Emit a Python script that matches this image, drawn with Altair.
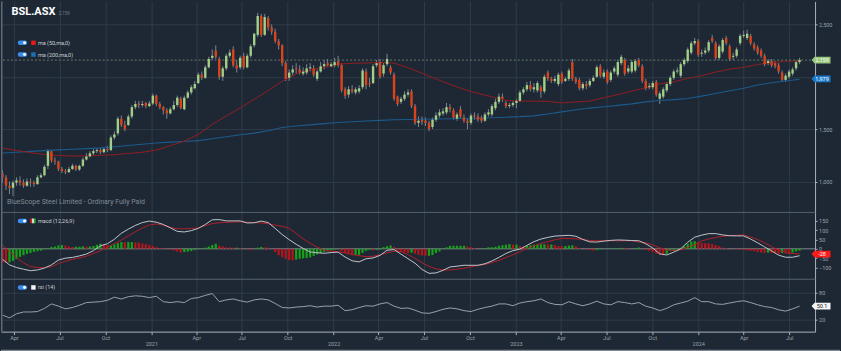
import altair as alt
import pandas as pd
import numpy as np

# ---------------- data (weekly candles, first week 2020-03-09) ----------------
FIRST_WEEK = "2020-03-09"

open_ = [1080,1040,960,940,990,1010,990,960,1000,990,
         975,1040,1060,1150,1290,1200,1190,1120,1100,1090,
         1120,1150,1115,1150,1210,1240,1270,1290,1300,1280,
         1310,1300,1420,1460,1600,1540,1540,1620,1710,1745,
         1730,1750,1720,1745,1820,1740,1710,1680,1650,1690,
         1730,1790,1690,1800,1850,1890,1940,2020,1990,2090,
         2180,2250,2170,2000,2080,2200,2260,2110,2090,2200,
         2090,2200,2300,2400,2580,2400,2560,2470,2430,2340,
         2300,2130,1990,2040,2080,2070,2030,2040,2080,2080,
         1980,2050,2100,2130,2100,2110,2150,2110,1880,1830,
         1880,1850,1860,1900,2050,1940,1940,2110,2140,2030,
         2120,2090,2020,1810,1760,1790,1830,1860,1720,1560,
         1590,1580,1560,1520,1590,1630,1650,1660,1710,1680,
         1600,1690,1610,1580,1560,1630,1620,1610,1580,1640,
         1640,1700,1760,1810,1750,1720,1730,1750,1770,1850,
         1880,1920,1880,1870,1900,1860,2040,1980,1960,1930,
         2030,1960,1980,2140,1980,1970,1890,1930,1920,1960,
         2000,2100,2000,2050,1970,2050,2020,2130,2160,2050,
         2050,2060,2160,2100,1960,1900,1900,1950,1790,1810,
         1870,1930,1990,2050,2010,2120,2150,2230,2320,2340,
         2220,2230,2250,2370,2320,2180,2240,2370,2290,2190,
         2200,2320,2390,2370,2390,2310,2280,2250,2200,2130,
         2150,2130,2110,2040,1970,2000,2030,2080,2140]

high = [1110,1060,1000,1010,1040,1050,1020,1030,1030,1010,
        1060,1080,1160,1310,1300,1230,1200,1140,1120,1140,
        1170,1160,1160,1230,1270,1290,1310,1320,1320,1330,
        1340,1440,1480,1620,1630,1580,1640,1730,1770,1770,
        1770,1760,1770,1840,1830,1760,1720,1700,1710,1770,
        1820,1810,1820,1870,1920,1960,2040,2050,2110,2190,
        2260,2300,2190,2100,2220,2260,2290,2160,2200,2230,
        2220,2310,2420,2610,2600,2600,2580,2500,2460,2360,
        2310,2150,2070,2110,2130,2110,2090,2120,2130,2110,
        2070,2140,2160,2170,2140,2180,2200,2130,1900,1910,
        1920,1900,1920,2080,2080,1990,2120,2160,2170,2130,
        2220,2110,2040,1820,1810,1860,1880,1880,1740,1620,
        1620,1610,1580,1610,1660,1690,1700,1750,1740,1700,
        1660,1720,1640,1600,1650,1660,1650,1630,1660,1690,
        1740,1790,1840,1840,1770,1750,1770,1790,1870,1900,
        1950,1960,1940,1960,1920,2020,2060,2000,2010,2040,
        2050,2000,2080,2170,2000,1990,1950,1960,1980,2010,
        2110,2120,2070,2070,2060,2100,2160,2210,2180,2110,
        2160,2170,2180,2120,1980,1940,1960,1970,1860,1900,
        1950,2010,2070,2090,2140,2180,2280,2340,2370,2360,
        2260,2280,2350,2400,2340,2310,2370,2390,2310,2230,
        2280,2410,2440,2450,2410,2330,2300,2270,2220,2170,
        2170,2150,2130,2060,2030,2070,2090,2160,2180]

low = [990,920,880,860,960,960,940,950,950,950,
       970,1030,1050,1120,1180,1160,1100,1080,1070,1080,
       1110,1100,1100,1140,1200,1230,1250,1270,1260,1270,
       1280,1290,1400,1440,1520,1480,1530,1600,1690,1700,
       1710,1700,1710,1730,1720,1690,1640,1600,1640,1680,
       1710,1690,1680,1790,1830,1880,1930,1970,1980,2080,
       2160,2170,1970,1960,2060,2180,2090,2040,2070,2070,
       2080,2180,2280,2380,2380,2390,2440,2400,2320,2260,
       2100,1960,1960,2010,2030,2020,2010,2020,2050,2000,
       1960,2040,2070,2090,2090,2090,2090,1850,1790,1800,
       1840,1830,1840,1880,1880,1900,1930,2090,1980,2000,
       2100,2020,1770,1720,1740,1770,1810,1700,1540,1520,
       1540,1530,1480,1500,1570,1610,1630,1640,1660,1590,
       1580,1600,1560,1500,1540,1590,1570,1560,1570,1620,
       1620,1680,1740,1760,1700,1700,1710,1700,1760,1830,
       1860,1860,1850,1850,1800,1840,1960,1940,1940,1910,
       1930,1950,1960,1960,1930,1870,1870,1880,1900,1950,
       1990,1990,1980,1930,1950,2030,2000,2110,2010,2030,
       2030,2040,2090,1940,1870,1880,1880,1810,1740,1790,
       1850,1910,1970,2030,1990,2100,2130,2210,2300,2190,
       2190,2210,2230,2320,2160,2160,2220,2300,2150,2160,
       2180,2300,2370,2350,2300,2250,2210,2180,2100,2110,
       2090,2080,2030,1950,1950,1980,2010,2060,2120]

close = [1040,960,940,990,1010,990,960,1000,990,975,
         1040,1060,1140,1290,1200,1190,1120,1100,1090,1120,
         1150,1115,1150,1210,1240,1270,1290,1300,1280,1310,
         1300,1420,1450,1600,1540,1500,1620,1710,1740,1730,
         1740,1720,1745,1820,1740,1710,1680,1650,1690,1730,
         1800,1700,1800,1850,1900,1930,2020,1990,2090,2170,
         2200,2190,2000,2080,2200,2230,2110,2080,2180,2090,
         2200,2290,2410,2580,2400,2570,2470,2430,2340,2300,
         2130,1980,2040,2070,2070,2040,2050,2080,2090,2020,
         2050,2100,2120,2110,2120,2140,2110,1870,1820,1880,
         1860,1880,1890,2060,1920,1930,2100,2130,2000,2110,
         2170,2040,1790,1740,1790,1830,1850,1720,1560,1580,
         1570,1560,1500,1590,1630,1660,1670,1710,1690,1610,
         1640,1620,1580,1560,1630,1620,1590,1580,1640,1660,
         1720,1760,1810,1790,1720,1730,1750,1770,1850,1880,
         1920,1880,1900,1940,1860,2000,1980,1960,1980,2020,
         1950,1980,2060,1980,1950,1890,1930,1910,1960,1990,
         2090,2010,2040,1950,2040,2080,2140,2190,2030,2080,
         2140,2150,2110,1960,1890,1910,1940,1830,1840,1880,
         1930,1990,2050,2060,2120,2160,2260,2320,2340,2210,
         2230,2250,2330,2340,2180,2290,2350,2320,2170,2200,
         2260,2390,2400,2410,2320,2270,2230,2200,2120,2150,
         2110,2100,2050,1970,2010,2050,2070,2140,2159]

# moving averages, read every 4th week
ma50 = [1319,1296,1276,1258,1248,1243,1246,1250,1256,1268,
        1279,1300,1342,1385,1450,1545,1625,1703,1785,1868,
        1957,2027,2066,2090,2121,2128,2131,2138,2130,2087,
        2033,1980,1927,1880,1842,1808,1775,1767,1767,1765,
        1750,1760,1768,1800,1830,1863,1895,1932,1950,1985,
        2010,2045,2072,2090,2117,2135,2148,2150]
ma200 = [1273,1280,1288,1295,1302,1308,1314,1321,1332,1344,
         1356,1368,1376,1382,1390,1408,1428,1446,1462,1485,
         1515,1530,1541,1553,1563,1571,1578,1584,1589,1592,
         1594,1597,1599,1601,1603,1608,1614,1619,1627,1645,
         1665,1685,1701,1714,1727,1741,1760,1774,1782,1792,
         1815,1840,1866,1891,1922,1942,1960,1976]

# MACD (12,26,9) line and signal, read every 2nd week
macd_line = [-56,-86,-100,-109,-117,-113,-103,-86,-60,-50,
             -46,-38,-28,-10,16,27,51,83,105,125,
             140,148,142,130,112,93,90,97,109,130,
             155,156,149,149,149,138,139,148,140,109,
             76,49,24,2,-17,-21,-24,-20,-18,-44,
             -64,-70,-53,-49,-35,-8,-4,-29,-53,-77,
             -110,-131,-129,-115,-97,-93,-88,-88,-88,-80,
             -65,-46,-25,-10,-2,18,38,52,61,68,
             70,72,67,50,37,36,41,45,47,46,
             44,43,27,4,-27,-33,-18,0,35,62,
             73,81,81,74,70,69,69,52,32,10,
             -11,-34,-45,-45,-37]
signal_line = [18,-14,-46,-75,-95,-100,-100,-96,-78,-67,
               -56,-49,-40,-25,-11,8,27,47,69,91,
               111,127,133,126,115,107,107,109,111,124,
               135,139,141,143,144,142,140,138,134,126,
               120,110,82,53,29,9,-8,-12,-16,-22,
               -30,-37,-42,-40,-32,-22,-13,-15,-31,-51,
               -74,-94,-107,-113,-113,-109,-104,-96,-89,-84,
               -73,-62,-47,-32,-16,2,16,28,38,48,
               56,55,53,50,44,43,43,43,43,43,
               43,36,33,21,5,-6,-9,-5,8,22,
               42,52,61,67,70,72,74,62,50,32,
               11,-7,-22,-25,-27]
# MACD histogram, weekly
macd_hist = [-74,-75,-72,-64,-54,-43,-34,-27,-22,-16,
             -13,-10,-3,4,10,12,18,20,17,12,
             10,11,11,13,12,12,15,21,27,24,
             19,19,24,30,36,35,36,36,34,33,
             29,25,21,15,9,5,4,1,-3,-9,
             -14,-20,-17,-15,-12,-7,-2,3,6,12,
             20,27,17,12,8,7,6,6,5,0,
             -4,-7,-1,6,10,8,6,-2,-17,-34,
             -44,-54,-61,-62,-58,-53,-51,-49,-46,-38,
             -30,-23,-16,-12,-8,-4,-2,-13,-22,-29,
             -34,-34,-33,-22,-11,-6,-9,-6,-3,9,
             14,18,9,-10,-14,-19,-22,-21,-26,-32,
             -36,-37,-37,-33,-22,-14,-2,8,16,16,
             16,16,16,12,8,4,1,1,4,8,
             8,11,16,19,22,25,22,22,14,11,
             16,19,22,23,24,24,23,23,20,15,
             14,15,17,19,14,5,0,-3,-7,-10,
             -7,-4,-2,0,2,3,4,5,3,2,
             1,3,7,2,-6,-10,-17,-26,-32,-33,
             -27,-9,-9,-3,5,13,27,39,40,35,
             31,30,29,26,20,14,7,4,0,-2,
             -3,-4,-5,-9,-10,-12,-18,-20,-22,-20,
             -22,-23,-27,-22,-23,-24,-20,-14,-10]
# RSI (14), read every 2nd week
rsi = [30,24,33,37,37,38,45,55,50,44,
       47,52,58,59,60,63,70,66,71,73,
       72,69,72,60,58,60,58,67,69,74,
       78,60,64,66,62,59,64,66,64,56,
       47,46,48,49,51,48,50,50,52,40,
       42,47,51,50,55,58,50,45,46,41,
       35,34,38,43,46,44,40,38,43,47,
       50,55,55,51,57,60,62,66,58,54,
       53,60,55,51,55,61,55,53,60,58,
       55,58,50,46,40,45,53,57,61,69,
       60,60,55,54,57,60,62,58,53,49,
       47,42,39,44,50]

LAST_PRICE, LAST_PRICE_TXT = 2159, "2,159"
LAST_MA200, LAST_MA200_TXT = 1979, "1,979"
LAST_MACD, LAST_MACD_TXT = -28, "-28"
LAST_RSI, LAST_RSI_TXT = 50.1, "50.1"

# ---------------- frames ----------------
weeks = pd.date_range(FIRST_WEEK, periods=len(close), freq="7D")
candles = pd.DataFrame({"date": weeks, "open": open_, "high": high,
                        "low": low, "close": close})
candles["dir"] = np.where(candles["close"] >= candles["open"], "up", "down")

hist_df = pd.DataFrame({"date": weeks, "hist": macd_hist})
rising = np.r_[False, np.diff(np.array(macd_hist)) >= 0]
hist_df["dir"] = np.where(rising, "up", "down")
hist_df["zero"] = 0

ma_df = pd.DataFrame({"date": weeks[::4], "ma50": ma50, "ma200": ma200})
osc_df = pd.DataFrame({"date": weeks[::2], "macd": macd_line,
                       "signal": signal_line, "rsi": rsi})
one = pd.DataFrame({"a": [0]})

# ---------------- style ----------------
BG = "#1e2834"
GRID = "#2f3b48"
AXC = "#9aa2ab"
DOM = "#aab1b9"
FONT = "Roboto"
UP, DOWN = "#a2cf87", "#d9441d"
W = 816
H_PRICE, H_MACD, H_RSI = 211, 67, 53


def ms(s):
    return int(pd.Timestamp(s).value // 10**6)


x_domain = [ms("2020-03-06"), ms("2024-08-22")]
quarter_ticks = [int(t.value // 10**6)
                 for t in pd.date_range("2020-04-01", "2024-07-01", freq="QS")]

x_grid_axis = alt.Axis(values=quarter_ticks, grid=True, gridColor=GRID,
                       labels=False, ticks=False, domain=False, title=None)
x_bottom_axis = alt.Axis(
    values=quarter_ticks, grid=True, gridColor=GRID, labels=True, ticks=True,
    tickSize=3, tickColor=DOM, domain=True, domainColor=DOM,
    labelFontSize=5.5, labelColor=AXC, labelFont=FONT, labelPadding=0.5,
    labelLineHeight=6.5, labelBaseline="top", labelOverlap=False,
    labelFlush=False, title=None,
    labelExpr="utcmonth(datum.value) == 0 ? ['', utcFormat(datum.value, '%Y')] : utcFormat(datum.value, '%b')")


def X(axis):
    return alt.X("date:T", scale=alt.Scale(domain=x_domain), axis=axis)


def yaxis(values, grid, expr=None):
    kw = dict(orient="right", values=values, grid=grid, gridColor=GRID,
              tickSize=2, tickColor=DOM, domainColor=DOM, labelFontSize=5.5,
              labelColor=AXC, labelFont=FONT, labelPadding=1.5, title=None)
    if expr:
        kw["labelExpr"] = expr
    return alt.Axis(**kw)


price_axis = yaxis([1000, 1500, 2000, 2500], True,
                   "datum.value == 2000 ? '' : format(datum.value, ',')")
macd_axis = yaxis([-100, -50, 0, 50, 100, 150], False)
rsi_axis = yaxis([20, 80], True)


def price_y(f):
    return alt.Y(f"{f}:Q", scale=alt.Scale(domain=[710, 2719], nice=False, zero=False),
                 axis=price_axis)


def macd_y(f):
    return alt.Y(f"{f}:Q", scale=alt.Scale(domain=[-160, 197], nice=False, zero=False),
                 axis=macd_axis)


def rsi_y(f):
    return alt.Y(f"{f}:Q", scale=alt.Scale(domain=[-6.7, 111], nice=False, zero=False),
                 axis=rsi_axis)


TAG = "M-1,0L-0.68,-0.36L1,-0.36L1,0.36L-0.68,0.36Z"


def tag(value, yfn, fill, text, tcolor):
    d = alt.Chart(pd.DataFrame({"v": [value]}))
    shape = d.mark_point(shape=TAG, size=361, filled=True, color=fill,
                         opacity=1, strokeWidth=0).encode(x=alt.value(822), y=yfn("v"))
    lab = d.mark_text(fontSize=5.5, color=tcolor, font=FONT, align="center",
                      baseline="middle").encode(x=alt.value(823), y=yfn("v"),
                                                text=alt.value(text))
    return [shape, lab]


def txt(text, x, y, size=5.5, color="#c9ced4", weight="normal"):
    return alt.Chart(one).mark_text(text=text, fontSize=size, color=color,
                                    fontWeight=weight, align="left",
                                    baseline="middle", font=FONT).encode(
        x=alt.value(x), y=alt.value(y))


def toggle(y):
    pill = alt.Chart(one).mark_rule(color="#3b8beb", strokeWidth=4.5,
                                    strokeCap="round").encode(
        x=alt.value(19), x2=alt.value(24), y=alt.value(y))
    knob = alt.Chart(one).mark_point(shape="circle", size=9, filled=True,
                                     color="white", opacity=1).encode(
        x=alt.value(23.6), y=alt.value(y))
    return [pill, knob]


def swatch(x, y, color):
    return alt.Chart(one).mark_point(shape="square", size=20, filled=True,
                                     color=color, opacity=1).encode(
        x=alt.value(x), y=alt.value(y))


def left_border():
    return alt.Chart(one).mark_rule(color="#5f6975", strokeWidth=1.5).encode(
        x=alt.value(0.75))


def top_sep():
    return alt.Chart(one).mark_rule(color="#56616d", strokeWidth=1).encode(
        y=alt.value(0.5))


# ---------------- price panel ----------------
wicks = alt.Chart(candles).mark_rule(color="#7c8692", strokeWidth=1).encode(
    x=X(x_grid_axis), y=price_y("low"), y2=alt.Y2("high:Q"))
bodies = alt.Chart(candles).mark_rule(strokeWidth=2.4).encode(
    x=X(x_grid_axis), y=price_y("open"), y2=alt.Y2("close:Q"),
    color=alt.Color("dir:N", scale=alt.Scale(domain=["up", "down"], range=[UP, DOWN]),
                    legend=None))
ma50_line = alt.Chart(ma_df).mark_line(color="#8f1d22", strokeWidth=1).encode(
    x=X(x_grid_axis), y=price_y("ma50"))
ma200_line = alt.Chart(ma_df).mark_line(color="#1b5a8c", strokeWidth=1.1).encode(
    x=X(x_grid_axis), y=price_y("ma200"))
last_rule = alt.Chart(pd.DataFrame({"v": [LAST_PRICE]})).mark_rule(
    color="#66766a", strokeDash=[2, 2], strokeWidth=1).encode(y=price_y("v"))

price_layers = [wicks, ma200_line, ma50_line, last_rule, bodies]
price_layers += tag(LAST_PRICE, price_y, "#96c67a", LAST_PRICE_TXT, "white")
price_layers += tag(LAST_MA200, price_y, "#1a78c8", LAST_MA200_TXT, "white")
price_layers += [txt("BSL.ASX", 10.5, 10.5, size=11, color="white", weight="bold"),
                 txt(LAST_PRICE_TXT, 58, 12.5, size=4.5, color="#6f7a85")]
price_layers += toggle(41.5) + [swatch(32.5, 41.5, "#e31b1b"), txt("ma (50,ma,0)", 37, 41.5)]
price_layers += toggle(53.3) + [swatch(32.5, 53.3, "#1a6fb8"), txt("ma (200,ma,0)", 37, 53.3)]
price_layers += [txt("BlueScope Steel Limited - Ordinary Fully Paid", 6, 201.5,
                     size=7, color="#7f8a95"), left_border()]
price_panel = alt.layer(*price_layers).properties(width=W, height=H_PRICE)

# ---------------- MACD panel ----------------
zero_rule = alt.Chart(pd.DataFrame({"v": [0]})).mark_rule(
    color="#7f8891", strokeWidth=1).encode(y=macd_y("v"))
hist_bars = alt.Chart(hist_df).mark_rule(strokeWidth=2.2).encode(
    x=X(x_grid_axis), y=macd_y("hist"), y2=alt.Y2("zero:Q"),
    color=alt.Color("dir:N", scale=alt.Scale(domain=["up", "down"],
                                             range=["#17a317", "#b8141c"]), legend=None))
macd_l = alt.Chart(osc_df).mark_line(color="#bfc4ca", strokeWidth=1).encode(
    x=X(x_grid_axis), y=macd_y("macd"))
signal_l = alt.Chart(osc_df).mark_line(color="#b01f28", strokeWidth=1).encode(
    x=X(x_grid_axis), y=macd_y("signal"))

macd_icon = [alt.Chart(one).mark_rule(color=c, strokeWidth=1.8).encode(
    x=alt.value(xx), y=alt.value(6.6), y2=alt.value(11.4))
    for xx, c in [(30.3, "#e02020"), (32.1, "#f0f0f0"), (33.9, "#22b022")]]

macd_layers = [zero_rule, hist_bars, signal_l, macd_l]
macd_layers += tag(LAST_MACD, macd_y, "#ff1a1a", LAST_MACD_TXT, "white")
macd_layers += toggle(9) + macd_icon + [txt("macd (12,26,9)", 37, 9), top_sep(), left_border()]
macd_panel = alt.layer(*macd_layers).properties(width=W, height=H_MACD)

# ---------------- RSI panel ----------------
rsi_l = alt.Chart(osc_df).mark_line(color="#a6acb3", strokeWidth=0.9).encode(
    x=X(x_bottom_axis), y=rsi_y("rsi"))
frame = alt.Chart(one).mark_rule(color="#7d858e", strokeWidth=1.5).encode(
    x=alt.value(0), x2=alt.value(841), y=alt.value(72))

rsi_layers = [rsi_l]
rsi_layers += tag(LAST_RSI, rsi_y, "#f4f4f4", LAST_RSI_TXT, "#222222")
rsi_layers += toggle(8.7) + [swatch(32.5, 8.7, "#f4f4f4"), txt("rsi (14)", 37, 8.7),
                             top_sep(), left_border(), frame]
rsi_panel = alt.layer(*rsi_layers).properties(width=W, height=H_RSI)

chart = alt.vconcat(price_panel, macd_panel, rsi_panel, spacing=0, bounds="flush").resolve_scale(
    x="independent", y="independent", color="independent"
).configure(background=BG, padding=0).configure_view(stroke=None)

chart.save("out.html", embed_options={"renderer": "svg", "actions": False})
